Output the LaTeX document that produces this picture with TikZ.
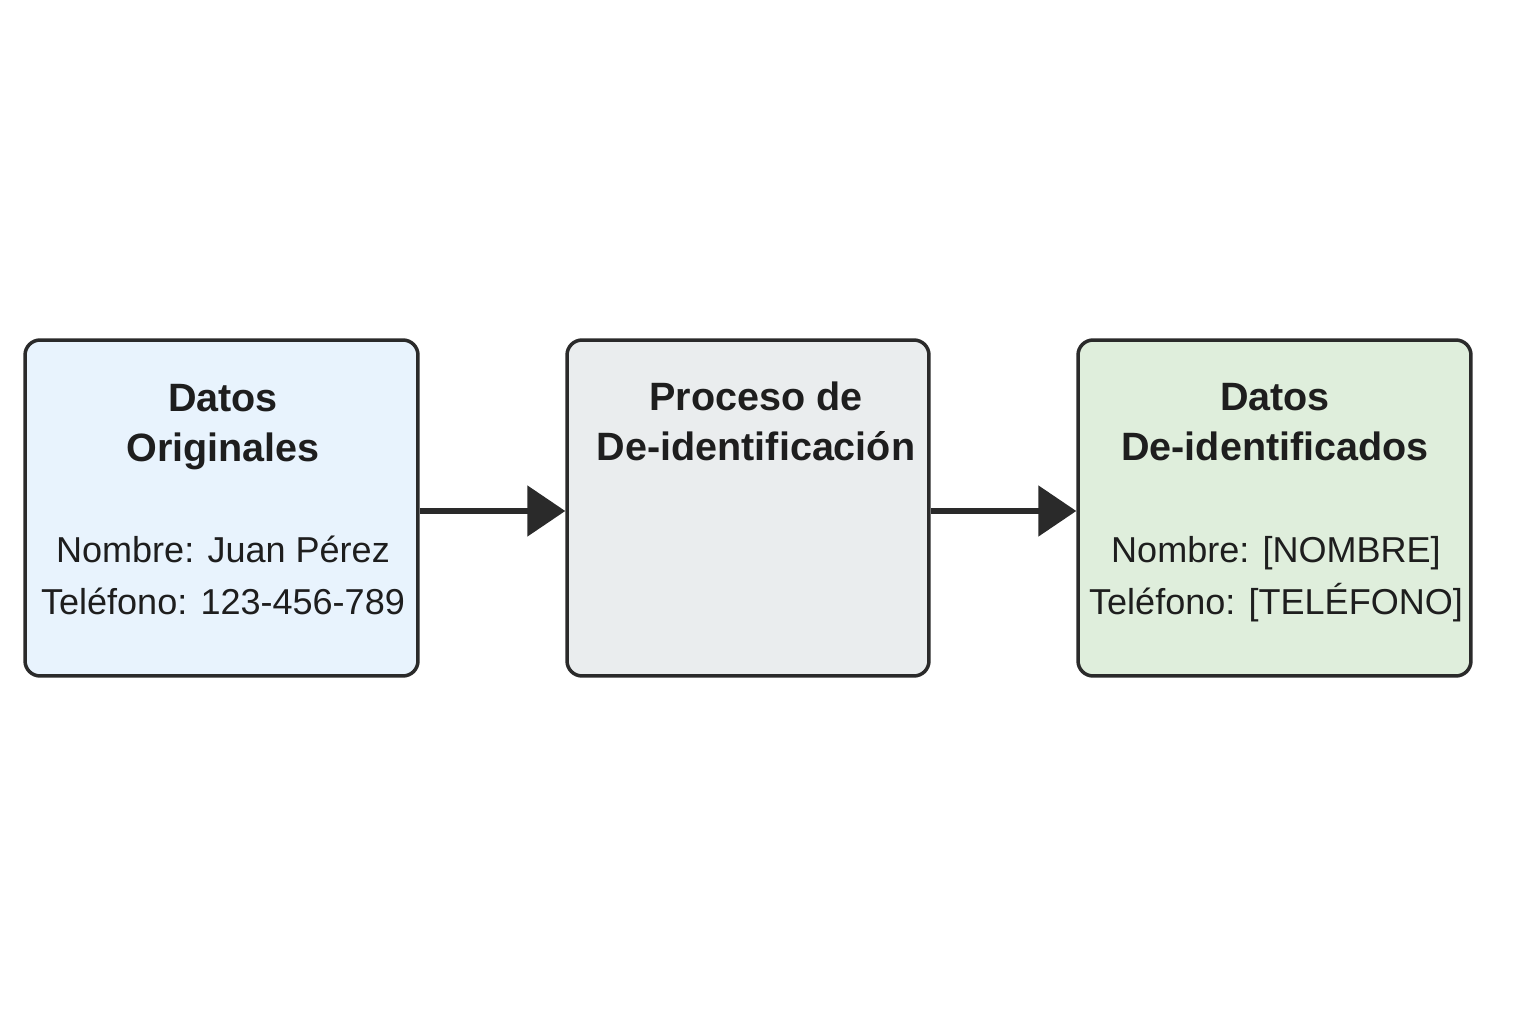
\documentclass[tikz,border=0pt]{standalone}
\usepackage{fontspec}
\setmainfont{Liberation Sans}
\usetikzlibrary{arrows.meta}
\definecolor{origfill}{RGB}{232,243,253}
\definecolor{procfill}{RGB}{234,237,238}
\definecolor{deidfill}{RGB}{223,238,220}
\definecolor{boxline}{RGB}{42,42,42}
\definecolor{txt}{RGB}{30,30,30}

\begin{document}
\begin{tikzpicture}[x=0.02cm,y=-0.02cm,
    stagebox/.style={draw=boxline,line width=2pt,rounded corners=0.3cm,minimum height=6.72cm},
    title/.style={align=center,text=txt,font=\fontsize{22.5}{28.5}\selectfont\bfseries},
    body/.style={align=center,text=txt,font=\fontsize{20.5}{29.6}\selectfont},
    flow/.style={draw=boxline,line width=3pt,-{Triangle[length=0.76cm,width=1cm]}}]
  \useasboundingbox (0,0) rectangle (1536,1024);
  \node[stagebox,fill=origfill,minimum width=7.86cm] (orig) at (221.5,508) {};
  \node[stagebox,fill=procfill,minimum width=7.24cm] (proc) at (748,508) {};
  \node[stagebox,fill=deidfill,minimum width=7.86cm] (deid) at (1274.5,508) {};
  \node[title] (origtitle) at (223,427) {Datos\\Originales};
  \node[body] (origbody) at (223,575) {Nombre: Juan Pérez\\Teléfono: 123-456-789};
  \node[title] (proctitle) at (756,421) {Proceso de\\De-identificación};
  \node[title] (deidtitle) at (1275,422) {Datos\\De-identificados};
  \node[body] (deidbody) at (1276,579) {Nombre: [NOMBRE]\\Teléfono: [TELÉFONO]};
  \draw[flow] ([yshift=-0.06cm]orig.east) -- ([yshift=-0.06cm]proc.west);
  \draw[flow] ([yshift=-0.06cm]proc.east) -- ([yshift=-0.06cm]deid.west);
\end{tikzpicture}
\end{document}
